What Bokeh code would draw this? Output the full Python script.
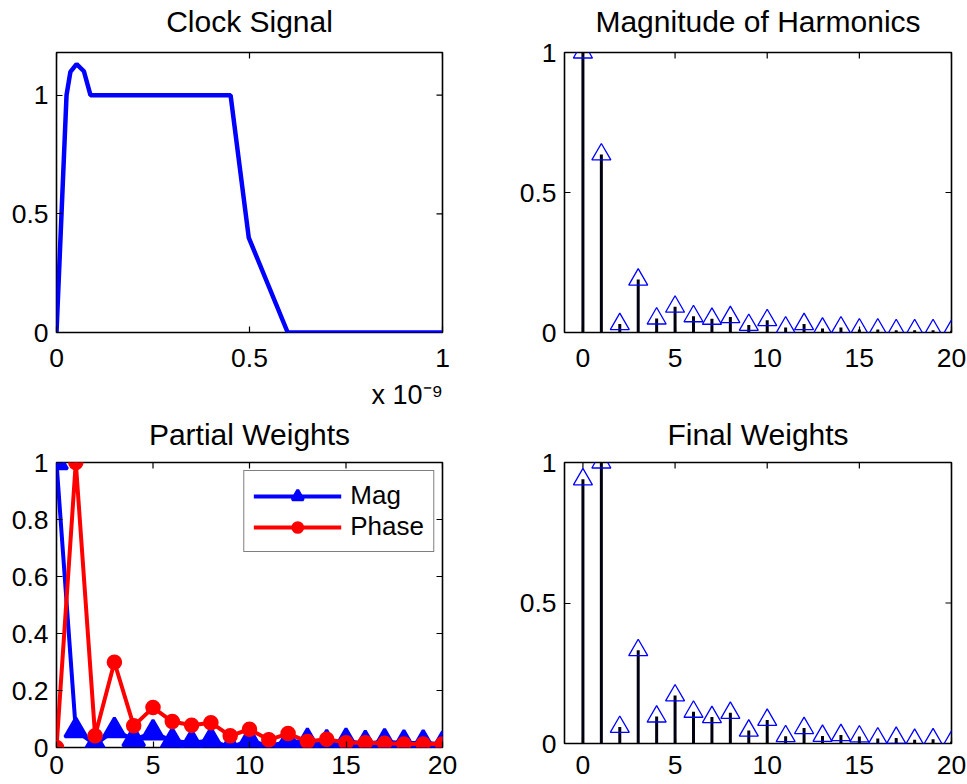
from bokeh.plotting import figure
from bokeh.layouts import row, column
from bokeh.models import (Range1d, FixedTicker, LinearAxis, CustomJSTickFormatter,
                          Legend, LegendItem)
from bokeh.embed import file_html
from bokeh.resources import INLINE

# ---------------- data ----------------
clock_t_ns = [0.0, 0.026, 0.036, 0.052, 0.071, 0.088, 0.451, 0.498, 0.599, 1.0]
clock_v = [0.0, 1.0, 1.098, 1.131, 1.101, 1.0, 1.0, 0.40, 0.0, 0.0]

harm_n = list(range(21))
harm_mag = [1.0, 0.636, 0.030, 0.189, 0.050, 0.092, 0.058, 0.049, 0.055, 0.027, 0.044,
            0.018, 0.030, 0.014, 0.018, 0.011, 0.011, 0.008, 0.008, 0.008, 0.006]

partial_mag = [1.0, 0.06, 0.01, 0.06, 0.028, 0.052, 0.023, 0.017, 0.025, 0.0, 0.025,
               0.005, 0.02, 0.022, 0.017, 0.022, 0.014, 0.02, 0.016, 0.016, 0.012]
partial_phase = [0.0, 1.0, 0.041, 0.299, 0.076, 0.14, 0.091, 0.078, 0.087, 0.041, 0.064,
                 0.027, 0.049, 0.021, 0.029, 0.017, 0.017, 0.015, 0.012, 0.012, 0.012]

final_w = [0.94, 1.0, 0.059, 0.332, 0.096, 0.171, 0.113, 0.094, 0.109, 0.046, 0.084,
           0.026, 0.055, 0.027, 0.030, 0.025, 0.018, 0.020, 0.013, 0.015, 0.006]

ticks_clock_x = [0, 0.5, 1]
ticks_half = [0, 0.5, 1]
ticks_n = [0, 5, 10, 15, 20]
ticks_fifth = [0, 0.2, 0.4, 0.6, 0.8, 1]
clock_exponent = "x 10\u207b\u2079"

FONT = "Liberation Sans"
TICK_FS = "26.5px"
TITLE_FS = "30px"
TICK_LEN = 6

fmt_code = "return String(Math.round(tick*1000)/1000);"


def make_fig(w, h, xr, yr, xt, yt, bl, br, bt, bb, fw, fh, title, xstand, tstand):
    p = figure(width=w, height=h, x_range=Range1d(*xr), y_range=Range1d(*yr),
               output_backend="svg", toolbar_location=None,
               x_axis_type=None, y_axis_type=None,
               min_border_left=bl, min_border_right=br,
               min_border_top=bt, min_border_bottom=bb)
    for loc, ticks in [("below", xt), ("left", yt)]:
        ax = LinearAxis(ticker=FixedTicker(ticks=ticks),
                        formatter=CustomJSTickFormatter(code=fmt_code))
        ax.major_tick_in = TICK_LEN
        ax.major_tick_out = 0
        ax.minor_tick_in = 0
        ax.minor_tick_out = 0
        ax.axis_line_color = None
        ax.major_tick_line_color = "black"
        ax.major_tick_line_width = 1.2
        ax.major_label_text_font = FONT
        ax.major_label_text_font_size = TICK_FS
        ax.major_label_text_color = "black"
        ax.major_label_standoff = xstand if loc == "below" else 8
        p.add_layout(ax, loc)
    # title drawn as the label of a tick-less axis above the box
    tax = LinearAxis(ticker=FixedTicker(ticks=[]), axis_label=title)
    tax.axis_line_color = None
    tax.major_tick_line_color = None
    tax.minor_tick_line_color = None
    tax.major_tick_out = 0
    tax.major_tick_in = 0
    tax.axis_label_standoff = tstand
    tax.axis_label_text_font = FONT
    tax.axis_label_text_font_size = TITLE_FS
    tax.axis_label_text_font_style = "normal"
    tax.axis_label_text_color = "black"
    p.add_layout(tax, "above")
    # inner ticks on the top and right edges of the box
    dy = TICK_LEN * (yr[1] - yr[0]) / fh
    dx = TICK_LEN * (xr[1] - xr[0]) / fw
    p.segment(x0=xt, y0=[yr[1]] * len(xt), x1=xt, y1=[yr[1] - dy] * len(xt),
              line_color="black", line_width=1.2)
    p.segment(x0=[xr[1]] * len(yt), y0=yt, x1=[xr[1] - dx] * len(yt), y1=yt,
              line_color="black", line_width=1.2)
    p.outline_line_color = "black"
    p.outline_line_width = 1.6
    p.outline_line_alpha = 1.0
    p.background_fill_color = "white"
    p.border_fill_color = "white"
    return p


W1, W2 = 490, 477
H1 = 413
H2 = 784 - H1
TOP2 = 462 - H1

# Clock signal
p1 = make_fig(W1, H1, (0, 1), (0, 1.18), ticks_clock_x, ticks_half,
              56, 48, 52, H1 - 52 - 280, 386, 280, "Clock Signal", 16, 15)
p1.line(clock_t_ns, clock_v, line_color="#0000FF", line_width=4.5)
# exponent note under the time axis, as a second (tick-less) axis row
exp_ax = LinearAxis(ticker=FixedTicker(ticks=[0.909]),
                    formatter=CustomJSTickFormatter(args=dict(lab=clock_exponent),
                                                    code="return lab;"))
exp_ax.axis_line_color = None
exp_ax.major_tick_line_color = None
exp_ax.minor_tick_line_color = None
exp_ax.major_tick_in = 0
exp_ax.major_tick_out = 0
exp_ax.major_label_standoff = 10
exp_ax.major_label_text_font = FONT
exp_ax.major_label_text_font_size = "27px"
exp_ax.major_label_text_color = "black"
p1.add_layout(exp_ax, "below")

# Magnitude of harmonics
p2 = make_fig(W2, H1, (-1, 20), (0, 1), ticks_n, ticks_half,
              74, 16, 52, H1 - 52 - 280, 387, 280, "Magnitude of Harmonics", 16, 15)
p2.segment(x0=harm_n, y0=[0] * 21, x1=harm_n, y1=harm_mag, line_color="#000010", line_width=3)
p2.scatter(harm_n, harm_mag, marker="triangle", size=19, fill_color=None,
           line_color="#0000FF", line_width=1.3)

# Partial weights
p3 = make_fig(W1, H2, (0, 20), (0, 1), ticks_n, ticks_fifth,
              56, 48, TOP2, H2 - TOP2 - 285, 386, 285, "Partial Weights", 8, 12)
l1 = p3.line(harm_n, partial_mag, line_color="#0000FF", line_width=4)
s1 = p3.scatter(harm_n, partial_mag, marker="triangle", size=22, fill_color="#0000FF",
                line_color="#0000FF", line_width=3)
l2 = p3.line(harm_n, partial_phase, line_color="#FF0000", line_width=4)
s2 = p3.scatter(harm_n, partial_phase, marker="circle", size=14, fill_color="#FF0000",
                line_color="#FF0000", line_width=1.5)
leg = Legend(items=[LegendItem(label="Mag", renderers=[l1, s1]),
                    LegendItem(label="Phase", renderers=[l2, s2])],
             location="top_right")
leg.label_text_font = FONT
leg.label_text_font_size = "26px"
leg.label_text_color = "black"
leg.glyph_width = 88
leg.glyph_height = 28
leg.label_standoff = 9
leg.padding = 9
leg.spacing = 0
leg.margin = 8
leg.border_line_color = "black"
leg.border_line_width = 1.5
leg.background_fill_color = "white"
leg.background_fill_alpha = 1.0
p3.add_layout(leg)

# Final weights
p4 = make_fig(W2, H2, (-1, 20), (0, 1), ticks_n, ticks_half,
              74, 16, TOP2, H2 - TOP2 - 281, 387, 281, "Final Weights", 12, 12)
p4.segment(x0=harm_n, y0=[0] * 21, x1=harm_n, y1=final_w, line_color="#000010", line_width=3)
p4.scatter(harm_n, final_w, marker="triangle", size=19, fill_color=None,
           line_color="#0000FF", line_width=1.3)

layout = row(column(p1, p3), column(p2, p4))

open("out.html", "w").write(file_html(layout, INLINE))
